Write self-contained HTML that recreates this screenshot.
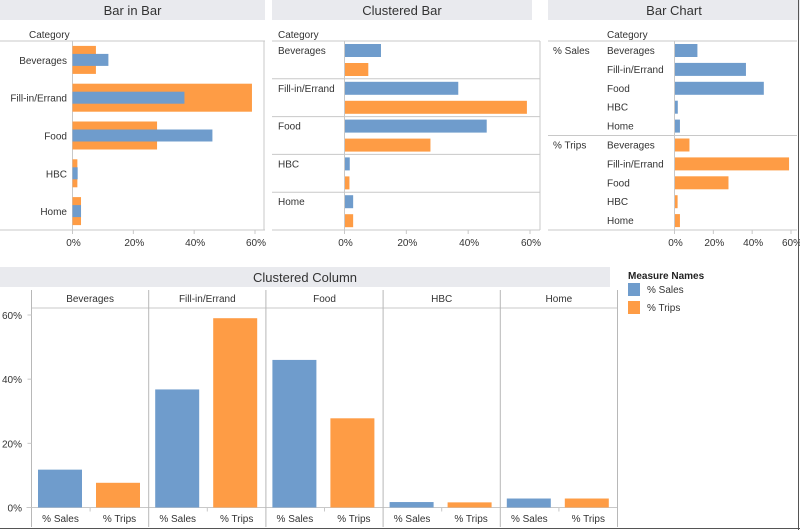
<!DOCTYPE html>
<html><head><meta charset="utf-8"><style>
html,body{margin:0;padding:0;background:#fff;}
svg{display:block;font-family:"Liberation Sans",Arial,sans-serif;}
</style></head><body>
<svg id="c" width="800" height="530" viewBox="0 0 800 530" xmlns="http://www.w3.org/2000/svg"></svg>
<script>
const categories = ["Beverages","Fill-in/Errand","Food","HBC","Home"];
const salesValues = [11.8, 36.8, 46, 1.7, 2.8];
const tripsValues = [7.7, 59, 27.8, 1.6, 2.8];
const tickValues = [0, 20, 40, 60];
const tickLabels = ["0%","20%","40%","60%"];
const measures = ["% Sales","% Trips"];

const BLUE="#6f9ccc", ORANGE="#fe9c45", GRID="#c8c8c8", TXT="#333";
const svg=document.getElementById('c');
const NS="http://www.w3.org/2000/svg";
function el(tag,attrs,parent){const e=document.createElementNS(NS,tag);for(const k in attrs)e.setAttribute(k,attrs[k]);(parent||svg).appendChild(e);return e;}
function txt(x,y,s,anchor,size,parent,name){const t=el('text',{x:x,y:y,'font-size':size||10,fill:TXT,'text-anchor':anchor||'start'},parent);t.textContent=s;


return t;}
function line(x1,y1,x2,y2,c,parent){const l=el('line',{x1:x1,y1:y1,x2:x2,y2:y2,stroke:c||GRID,'stroke-width':1},parent);


return l;}
function rect(x,y,w,h,fill,name,parent){const r=el('rect',{x:x,y:y,width:Math.max(w,0),height:Math.max(h,0),fill:fill},parent);


return r;}
function title(x,w,y,s,name){const g=el('g',{});


const r=el('rect',{x:x,y:y,width:w,height:20,fill:"#e9eaee"},g);
txt(x+w/2,y+15,s,'middle',13,g,name+'-text');}

/* ---------- Panel 1: Bar in Bar ---------- */
(function(){
 const g=el('g',{});
 
 
 title(0,265,0,"Bar in Bar","bar-in-bar-title");
 const x0=72.5, sc=(255-72.5)/60, top=41, bot=230, rh=(bot-top)/5;
 const xs=v=>x0+v*sc;
 txt(29,38,"Category",'start',10,g,'category-header');
 line(0,top,265,top,GRID,g); line(0,bot,265,bot,GRID,g);
 line(x0,top,x0,bot,GRID,g); line(264,top,264,bot,GRID,g);
 categories.forEach((c,i)=>{
  const cy=top+rh*i+rh/2;
  rect(x0,cy-14,xs(tripsValues[i])-x0,28,ORANGE,'trips-bar-'+i,g);
  rect(x0,cy-6,xs(salesValues[i])-x0,12,BLUE,'sales-bar-'+i,g);
  txt(67,cy+4,c,'end',10,g,'category-label');
 });
 tickValues.forEach((v,i)=>{line(xs(v),bot,xs(v),bot+4,GRID,g);txt(xs(v)+1,bot+16,tickLabels[i],'middle',10,g,'x-tick');});
})();

/* ---------- Panel 2: Clustered Bar ---------- */
(function(){
 const g=el('g',{});
 
 
 title(272,260,0,"Clustered Bar","clustered-bar-title");
 const x0=344.5, sc=(530-344.5)/60, top=41, bot=230, rh=(bot-top)/5, L=272, R=540;
 const xs=v=>x0+v*sc;
 txt(278,38,"Category",'start',10,g,'category-header');
 line(L,top,R,top,GRID,g);
 categories.forEach((c,i)=>{
  const y=top+rh*i;
  line(L,y+rh,R,y+rh,GRID,g);
  rect(x0,y+3,xs(salesValues[i])-x0,13,BLUE,'sales-bar-'+i,g);
  rect(x0,y+22,xs(tripsValues[i])-x0,13,ORANGE,'trips-bar-'+i,g);
  txt(278,y+13,c,'start',10,g,'category-label');
 });
 line(x0,top,x0,bot,GRID,g); line(R,top,R,bot,GRID,g);
 tickValues.forEach((v,i)=>{line(xs(v),bot,xs(v),bot+4,GRID,g);txt(xs(v)+1,bot+16,tickLabels[i],'middle',10,g,'x-tick');});
})();

/* ---------- Panel 3: Bar Chart ---------- */
(function(){
 const g=el('g',{});
 
 
 title(548,252,0,"Bar Chart","bar-chart-title");
 const x0=674.5, sc=(791-674.5)/60, top=41, bot=230, rh=(bot-top)/10, L=548, R=797;
 const xs=v=>x0+v*sc;
 txt(607,38,"Category",'start',10,g,'category-header');
 line(L,top,R,top,GRID,g); line(L,bot,R,bot,GRID,g); line(L,top+rh*5,R,top+rh*5,GRID,g);
 [salesValues,tripsValues].forEach((arr,m)=>{
  txt(553,top+rh*5*m+13,measures[m],'start',10,g,'measure-label');
  categories.forEach((c,i)=>{
   const y=top+rh*(m*5+i);
   rect(x0,y+3,xs(arr[i])-x0,13,m?ORANGE:BLUE,(m?'trips-bar-':'sales-bar-')+i,g);
   txt(607,y+13,c,'start',10,g,'category-label');
  });
 });
 line(x0,top,x0,bot,GRID,g);
 tickValues.forEach((v,i)=>{line(xs(v),bot,xs(v),bot+4,GRID,g);txt(xs(v)+1,bot+16,tickLabels[i],'middle',10,g,'x-tick');});
})();

/* ---------- Panel 4: Clustered Column ---------- */
(function(){
 const g=el('g',{});
 
 
 title(0,610,267,"Clustered Column","clustered-column-title");
 const y0=507.5, sc=(507.5-315)/60, L=31.5, pw=117.2, hdr=308;
 const ys=v=>y0-v*sc;
 line(L,hdr,L+pw*5,hdr,GRID,g);
 line(L-5,y0,L+pw*5,y0,GRID,g);
 categories.forEach((c,i)=>{
  const px=L+pw*i;
  txt(px+pw/2,302,c,'middle',10,g,'column-header');
  rect(px+6.5,ys(salesValues[i]),44,y0-ys(salesValues[i]),BLUE,'sales-column-'+i,g);
  rect(px+64.5,ys(tripsValues[i]),44,y0-ys(tripsValues[i]),ORANGE,'trips-column-'+i,g);
  line(px+pw/2,y0,px+pw/2,y0+4,GRID,g);
  txt(px+29,522,measures[0],'middle',10,g,'x-label');
  txt(px+88,522,measures[1],'middle',10,g,'x-label');
 });
 for(let i=0;i<=5;i++) line(L+pw*i,290,L+pw*i,527,"#b8b8b8",g);
 tickValues.forEach((v,i)=>{txt(22,ys(v)+4,tickLabels[i],'end',10,g,'y-tick');line(L-4,ys(v),L,ys(v),GRID,g);});
})();

/* ---------- Legend ---------- */
(function(){
 const g=el('g',{});
 
 
 const t=txt(628,279,"Measure Names",'start',10,g,'legend-title'); t.setAttribute('font-weight','bold'); t.setAttribute('fill','#222');
 rect(628,283,12,13,BLUE,'legend-swatch-sales',g); txt(647,293,"% Sales",'start',10,g,'legend-entry-sales');
 rect(628,301,12,13,ORANGE,'legend-swatch-trips',g); txt(647,311,"% Trips",'start',10,g,'legend-entry-trips');
})();

/* frame shadow */
line(0,528.5,800,528.5,"#555"); line(798.5,0,798.5,530,"#555");
</script>
</body></html>
